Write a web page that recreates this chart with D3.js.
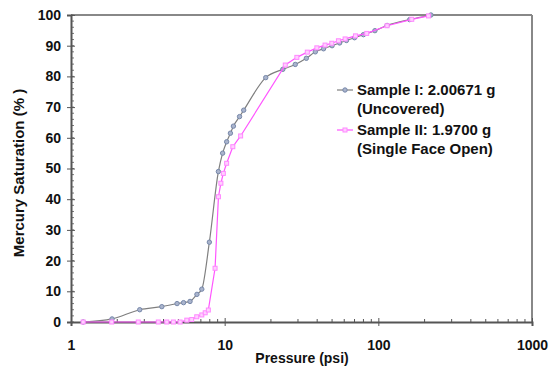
<!DOCTYPE html>
<html lang="en">
<head>
<meta charset="utf-8">
<title>Mercury Saturation vs Pressure</title>
<script src="https://d3js.org/d3.v7.min.js"></script>
<style>
  body { margin: 0; background: #fff; }
  text { font-family: Arial, "Liberation Sans", sans-serif; font-weight: bold; }
</style>
</head>
<body>
<script>
// Sample I (uncovered)
const sample1P = [1.2, 1.85, 2.8, 3.9, 4.9, 5.4, 5.95, 6.6, 7.1, 7.95, 9.1, 9.7, 10.3, 10.9, 11.4, 12.5, 13.3, 18.5,
                  23.9, 28.8, 34, 38.9, 44, 50, 56, 62, 70, 80, 95, 114, 160, 220];
const sample1S = [0, 1, 4, 5, 6, 6.3, 6.7, 9, 10.7, 26, 49, 55, 58.7, 61.5, 63.8, 66.9, 69, 79.6,
                  82.3, 83.9, 85.9, 88, 89, 90, 90.9, 91.7, 92.6, 93.6, 94.9, 96.6, 98.5, 100];
// Sample II (single face open)
const sample2P = [1.2, 1.84, 2.74, 3.7, 4.2, 4.64, 5.13, 5.67, 6.1, 6.58, 7.1, 7.47, 7.83, 8.66, 9.11, 9.45, 9.8, 10.3,
                  11.3, 12.7, 24.8, 29.5, 34.5, 39.8, 45, 49.8, 55, 60.8, 71, 84, 114, 165, 212];
const sample2S = [0, 0, 0, 0, 0, 0, 0, 0.6, 0.8, 1.7, 2.3, 3, 3.9, 17.5, 40.8, 45.2, 48.4, 51.7,
                  57.1, 60.6, 83.7, 86.2, 87.9, 89.3, 90.2, 90.8, 91.6, 92.2, 93.2, 94, 96.5, 98.6, 99.7];
const series = [
  {name: ["Sample I: 2.00671 g", "(Uncovered)"], p: sample1P, s: sample1S, line: "#7f7f7f", mark: "#7788aa",
   shape: "circle", curve: d3.curveMonotoneX},
  {name: ["Sample II: 1.9700 g", "(Single Face Open)"], p: sample2P, s: sample2S, line: "#ff55ff", mark: "#ff88ff",
   shape: "square", curve: d3.curveLinear}
];
const xTicks = [1, 10, 100, 1000];
const yTicks = [0, 10, 20, 30, 40, 50, 60, 70, 80, 90, 100];

const width = 550, height = 369;
const plotL = 71, plotR = 532, plotT = 15, plotB = 322;

const x = d3.scaleLog().domain([1, 1000]).range([plotL, plotR]);
const y = d3.scaleLinear().domain([0, 100]).range([plotB, plotT]);

const svg = d3.select("body").append("svg")
  .attr("width", width).attr("height", height);

// frame: top and right in gray
svg.append("line").attr("x1", plotL).attr("x2", plotR).attr("y1", plotT).attr("y2", plotT)
  .attr("stroke", "#888").attr("stroke-width", 2);
svg.append("line").attr("x1", plotR).attr("x2", plotR).attr("y1", plotT).attr("y2", plotB)
  .attr("stroke", "#888").attr("stroke-width", 2);

// minor ticks
const xMinor = [];
for (let d = 1; d < 1000; d *= 10) for (let k = 2; k <= 9; k++) xMinor.push(d * k);
svg.append("g").selectAll("line").data(xMinor).enter().append("line")
  .attr("x1", d => x(d)).attr("x2", d => x(d)).attr("y1", plotB).attr("y2", plotB - 3)
  .attr("stroke", "#555");
svg.append("g").selectAll("line").data(d3.range(0, 101, 2)).enter().append("line")
  .attr("x1", plotL).attr("x2", plotL + 3).attr("y1", d => y(d)).attr("y2", d => y(d))
  .attr("stroke", "#777");

// axes
const xAxis = svg.append("g")
  .attr("transform", "translate(0," + plotB + ")")
  .call(d3.axisBottom(x).tickValues(xTicks).tickFormat(d3.format("d")).tickSize(4).tickPadding(14));
const yAxis = svg.append("g")
  .attr("transform", "translate(" + plotL + ",0)")
  .call(d3.axisLeft(y).tickValues(yTicks).tickSize(4).tickPadding(6));
[xAxis, yAxis].forEach(g => {
  g.select(".domain").attr("stroke", "#555").attr("stroke-width", 2);
  g.selectAll(".tick line").attr("stroke", "#555");
  g.selectAll("text").style("font-size", "14px").attr("fill", "#111");
});
xAxis.selectAll(".tick line").attr("y1", -4);
yAxis.selectAll(".tick line").attr("x1", 4);

// series
series.forEach(sr => {
  const pts = sr.p.map((p, i) => [p, sr.s[i]]);
  const line = d3.line().x(d => x(d[0])).y(d => y(d[1])).curve(sr.curve);
  svg.append("path").datum(pts).attr("d", line)
    .attr("fill", "none").attr("stroke", sr.line).attr("stroke-width", 1.2);
  const g = svg.append("g");
  if (sr.shape === "circle") {
    g.selectAll("circle").data(pts).enter().append("circle")
      .attr("cx", d => x(d[0])).attr("cy", d => y(d[1])).attr("r", 2.2)
      .attr("fill", "#aab4cc").attr("stroke", sr.mark).attr("stroke-width", 1);
  } else {
    g.selectAll("rect").data(pts).enter().append("rect")
      .attr("x", d => x(d[0]) - 2).attr("y", d => y(d[1]) - 2).attr("width", 4).attr("height", 4)
      .attr("fill", "#ffd0ff").attr("stroke", sr.mark).attr("stroke-width", 1);
  }
});

// legend
series.forEach((sr, i) => {
  const ly = 90 + i * 40;
  svg.append("line").attr("x1", 337).attr("x2", 353).attr("y1", ly).attr("y2", ly)
    .attr("stroke", sr.line).attr("stroke-width", 1.2);
  if (sr.shape === "circle") {
    svg.append("circle").attr("cx", 345).attr("cy", ly).attr("r", 2.2)
      .attr("fill", "#aab4cc").attr("stroke", sr.mark);
  } else {
    svg.append("rect").attr("x", 343).attr("y", ly - 2).attr("width", 4).attr("height", 4)
      .attr("fill", "#ffd0ff").attr("stroke", sr.mark);
  }
  sr.name.forEach((t, j) => {
    svg.append("text").attr("x", 357).attr("y", ly + 5 + j * 19)
      .style("font-size", "15px").attr("fill", "#111").text(t);
  });
});

// axis titles
svg.append("text").attr("x", 302).attr("y", 363).attr("text-anchor", "middle")
  .style("font-size", "14px").attr("fill", "#111").text("Pressure (psi)");
svg.append("text").attr("transform", "translate(24,173) rotate(-90)").attr("text-anchor", "middle")
  .style("font-size", "15px").attr("fill", "#111").text("Mercury Saturation (% )");
</script>
</body>
</html>
